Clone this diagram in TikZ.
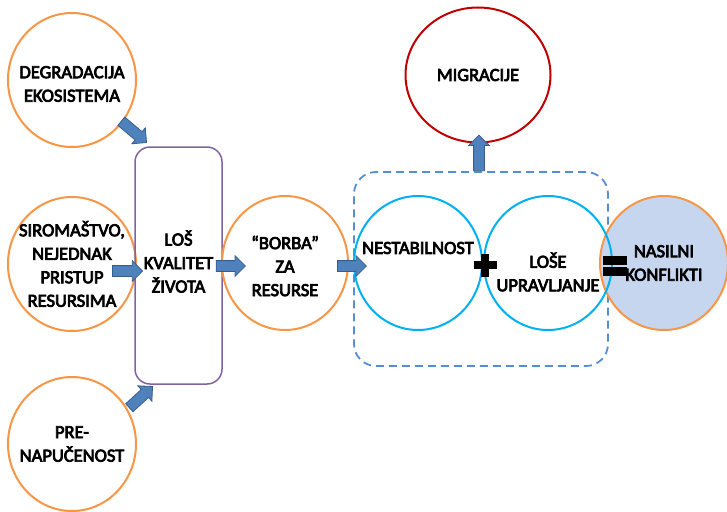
\documentclass[tikz,border=0pt]{standalone}
\usepackage{fontspec}
\setmainfont{Carlito}[BoldFont={Carlito}, BoldFeatures={FakeBold=4}]
\usetikzlibrary{positioning,shapes.geometric,shapes.arrows,calc}
\definecolor{narandzasta}{HTML}{F79646}
\definecolor{ljubicasta}{HTML}{8064A2}
\definecolor{cijan}{HTML}{00B0F0}
\definecolor{tamnocrvena}{HTML}{C00000}
\definecolor{isprekidana}{HTML}{558ED5}
\definecolor{strelicaplava}{HTML}{4F81BD}
\definecolor{strelicarub}{HTML}{385D8A}
\definecolor{svijetloplava}{HTML}{C6D6EF}
\tikzset{tekst/.style={font=\fontsize{18.5}{23.5}\selectfont\bfseries, align=center},
  krug/.style={ellipse, draw=narandzasta, line width=2pt, minimum width=128pt, minimum height=134pt, inner sep=0pt},
  kutija/.style={rectangle, rounded corners=15pt, draw=ljubicasta, line width=1.5pt, minimum width=87pt, minimum height=237pt, inner sep=0pt},
  grupa/.style={rectangle, rounded corners=22pt, draw=isprekidana, line width=1.8pt, dash pattern=on 8pt off 5pt, minimum width=254pt, minimum height=194pt},
  strelica/.style={single arrow, fill=strelicaplava, draw=strelicarub, line width=0.8pt, inner xsep=0pt, inner ysep=5pt, single arrow head extend=5pt},}
\newcommand{\blokstrelica}[2]{%
  \path let \p1=(#1), \p2=(#2), \n1={atan2(\y2-\y1,\x2-\x1)}, \n2={veclen(\x2-\x1,\y2-\y1)} in
    node[strelica, minimum height=\n2, rotate=\n1, anchor=tail] at (\p1) {};}

\begin{document}
\begin{tikzpicture}[x=1pt, y=-1pt]
\useasboundingbox (0,0) rectangle (727,511);
% uzroci
\node [krug, label={[tekst, yshift=-4pt]center:DEGRADACIJA\\EKOSISTEMA}] (degr) at (72,80) {};
\node [krug, label={[tekst]center:SIROMAŠTVO,\\NEJEDNAK\\PRISTUP\\RESURSIMA}] (siro) at (72,264) {};
\node [krug, label={[tekst]center:PRE-\\NAPUČENOST}] (pren) at (72,444) {};
\node [kutija, label={[tekst, yshift=4pt]center:LOŠ\\KVALITET\\ŽIVOTA}] (kval) at (178.5,265.5) {};
\node [krug, minimum width=126pt, label={[tekst, yshift=-3pt]center:“BORBA”\\ZA\\RESURSE}] (borba) at (285,263) {};
% posljedice
\node [grupa] (grp) at (481,269) {};
\node [krug, draw=tamnocrvena, minimum width=145pt, minimum height=135pt, label={[tekst]center:MIGRACIJE}] (migr) at (478,75) {};
\node [krug, draw=cijan, label={[tekst, yshift=15pt]center:NESTABILNOST}] (nest) at (418,263) {};
\node [krug, fill=svijetloplava, label={[tekst]center:NASILNI\\KONFLIKTI}] (nas) at (664,263) {};
\node [krug, draw=cijan, right=0pt of nest, label={[tekst, yshift=-9pt]center:LOŠE\\UPRAVLJANJE}] (upr) {};
% plus i jednako
\fill ($(nest.east)+(-9.5,-2)$) rectangle ($(nest.east)+(13.5,6)$);
\fill ($(nest.east)+(-2,-9.5)$) rectangle ($(nest.east)+(6,13.5)$);
\fill ($(upr.east)+(-10,-7)$) rectangle ($(upr.east)+(14,2)$);
\fill ($(upr.east)+(-10,4)$) rectangle ($(upr.east)+(14,13)$);
% strelice
\blokstrelica{$(degr.center)+(49,41)$}{$(kval.north west)+(12,-4)$}
\blokstrelica{$(siro.center)+(40,7)$}{$(kval.west)+(8,5.5)$}
\blokstrelica{$(pren.center)+(57,-36)$}{$(kval.south west)+(18,2)$}
\blokstrelica{$(kval.east)+(-7,0.5)$}{$(borba.west)+(24,3)$}
\blokstrelica{$(borba.east)+(-12,3)$}{$(nest.west)+(13,3)$}
\blokstrelica{$(grp.north)+(-2,0)$}{$(migr.south)+(1,-8)$}
\end{tikzpicture}
\end{document}
